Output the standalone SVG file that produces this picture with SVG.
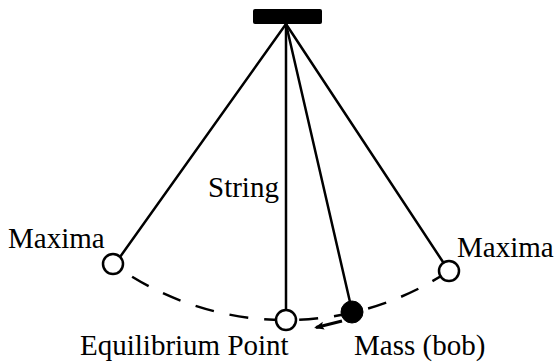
<svg xmlns="http://www.w3.org/2000/svg" width="556" height="362" viewBox="0 0 556 362">
<defs>
<style>
.str{stroke:#000;stroke-width:2.5;fill:none;stroke-linecap:round}
.arc{stroke:#000;stroke-width:2.5;fill:none;stroke-dasharray:19 16;stroke-dashoffset:12}
.ball{stroke:#000;stroke-width:2.5;fill:#fff}
.bob{stroke:#000;stroke-width:1;fill:#000}
.lbl{font-size:29px;fill:#000}
</style>
<marker id="ah" markerWidth="10" markerHeight="9" refX="8" refY="4.5" orient="auto" markerUnits="userSpaceOnUse">
<path d="M0,0.5 L10,4.5 L0,8.5 L2,4.5 Z" fill="#000"/>
</marker>
</defs>
<g id="support"><rect x="253" y="9" width="69" height="15" rx="2" fill="#000"/></g>
<g id="connectors">
<path class="arc" d="M113,264 A295,295 0 0 0 449,271"/>
<line class="str" x1="286" y1="24" x2="120" y2="257"/>
<line class="str" x1="286" y1="24" x2="286" y2="310"/>
<line class="str" x1="286" y1="24" x2="350" y2="302"/>
<line class="str" x1="286" y1="24" x2="443" y2="262"/>
<line x1="342" y1="321" x2="316" y2="327.5" stroke="#000" stroke-width="3" marker-end="url(#ah)"/>
</g>
<g id="maxima-left"><circle class="ball" cx="113" cy="264" r="10"/><text class="lbl" font-family="Liberation Serif, Times New Roman, DejaVu Serif, serif" x="8" y="248">Maxima</text></g>
<g id="maxima-right"><circle class="ball" cx="449" cy="271" r="10"/><text class="lbl" font-family="Liberation Serif, Times New Roman, DejaVu Serif, serif" x="457" y="257">Maxima</text></g>
<g id="equilibrium"><circle class="ball" cx="286" cy="320" r="10"/><text class="lbl" font-family="Liberation Serif, Times New Roman, DejaVu Serif, serif" x="80" y="355">Equilibrium Point</text></g>
<g id="bob"><circle class="bob" cx="352" cy="312" r="11"/><text class="lbl" font-family="Liberation Serif, Times New Roman, DejaVu Serif, serif" x="354" y="355">Mass (bob)</text></g>
<g id="string-label"><text class="lbl" font-family="Liberation Serif, Times New Roman, DejaVu Serif, serif" x="208" y="197">String</text></g>
</svg>
